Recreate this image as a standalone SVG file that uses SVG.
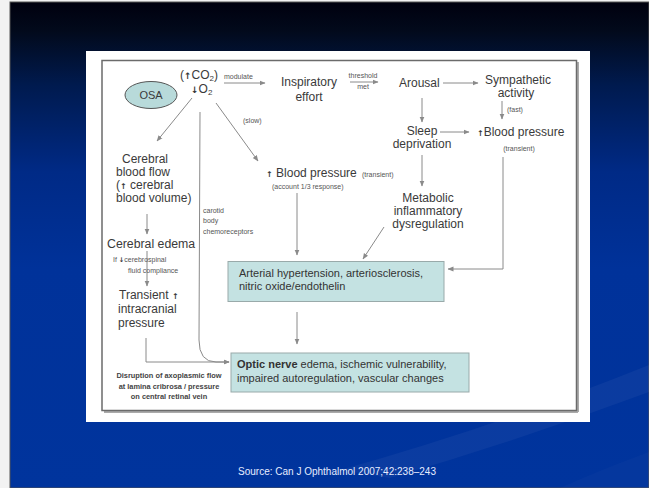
<svg xmlns="http://www.w3.org/2000/svg" width="649" height="488" viewBox="0 0 649 488">
<defs>
<linearGradient id="bg" x1="0" y1="0" x2="0" y2="1">
<stop offset="0" stop-color="#00000e"/>
<stop offset="0.06" stop-color="#020a1c"/>
<stop offset="0.17" stop-color="#001a4e"/>
<stop offset="0.35" stop-color="#002a86"/>
<stop offset="0.55" stop-color="#00329a"/>
<stop offset="1" stop-color="#00349d"/>
</linearGradient>
<marker id="ah" markerUnits="userSpaceOnUse" markerWidth="6" markerHeight="6" refX="5.5" refY="3" orient="auto">
<path d="M0,0.5 L6,3 L0,5.5 Z" fill="#8a8a8a"/>
</marker>
<style>
.t{font-family:"Liberation Sans",Arial,sans-serif;font-size:12px;fill:#3a3a3a}
.m{text-anchor:middle}
.s{font-family:"Liberation Sans",Arial,sans-serif;font-size:7px;fill:#555}
.sb{font-family:"Liberation Sans",Arial,sans-serif;font-size:7.4px;font-weight:bold;fill:#444;text-anchor:middle}
.bx{font-family:"Liberation Sans",Arial,sans-serif;font-size:11px;fill:#333}
.ar{font-family:"DejaVu Sans",sans-serif;font-weight:bold;fill:#333}
.c{fill:none;stroke:#8a8a8a;stroke-width:1;marker-end:url(#ah)}
.box{fill:#c4e2e2;stroke:#9aa;stroke-width:1}
</style>
</defs>
<rect x="0" y="0" width="649" height="488" fill="#f2f2f2"/>
<rect x="10" y="2" width="639" height="486" fill="url(#bg)" stroke="#555" stroke-width="1"/>
<path d="M340,470 Q500,425 649,365 L649,392 Q520,440 390,478 Z" fill="#ffffff" fill-opacity="0.045"/>
<path d="M560,488 Q600,470 649,452 L649,488 Z" fill="#ffffff" fill-opacity="0.02"/>
<rect x="86" y="51" width="504" height="371" fill="#ffffff"/>
<line x1="578" y1="62" x2="578" y2="412" stroke="#aaa" stroke-width="2"/>
<line x1="104" y1="412" x2="578" y2="412" stroke="#aaa" stroke-width="2"/>
<rect x="102" y="60.5" width="474.5" height="350" fill="none" stroke="#6b6b6b" stroke-width="1.5"/>

<g id="connectors">
<path class="c" d="M224,83 L265,83"/>
<path class="c" d="M350,82 L378,82"/>
<path class="c" d="M443,83 L478,83"/>
<path class="c" d="M502,101 L502,119"/>
<path class="c" d="M422,98 L422,122"/>
<path class="c" d="M440,132 L469,132"/>
<path class="c" d="M422,155 L422,186"/>
<path class="c" d="M192,98 L157,141"/>
<path class="c" d="M216,103 L258,161"/>
<path class="c" d="M200,112 L199,340 Q199,362 216,362 L229,362"/>
<path class="c" d="M146,338 L146,362 L229,362"/>
<path class="c" d="M147,214 L147,234"/>
<path class="c" d="M147,251 L147,286"/>
<path class="c" d="M297,193 L297,255"/>
<path class="c" d="M384,227 L363,259"/>
<path class="c" d="M503,157 L503,269 L448,269"/>
<path class="c" d="M297,312 L297,344"/>
</g>

<g id="osa">
<ellipse cx="151" cy="95" rx="26" ry="13.5" fill="#b8dada" stroke="#555" stroke-width="1"/>
<text class="t m" x="151" y="99" style="font-size:11px">OSA</text>
</g>
<g id="gases">
<text class="t" x="180" y="79">(<tspan class="ar" style="font-size:9px">↑</tspan>CO<tspan dy="2" style="font-size:8px">2</tspan><tspan dy="-2">)</tspan></text>
<text class="t" x="191" y="93"><tspan class="ar" style="font-size:9px">↓</tspan>O<tspan dy="2" style="font-size:8px">2</tspan></text>
</g>
<g id="modulate-label"><text class="s" x="224" y="79">modulate</text></g>
<g id="inspiratory">
<text class="t m" x="309" y="86">Inspiratory</text>
<text class="t m" x="309" y="101">effort</text>
</g>
<g id="threshold-label">
<text class="s m" x="363" y="78">threshold</text>
<text class="s m" x="363" y="89">met</text>
</g>
<g id="arousal"><text class="t" x="399" y="87">Arousal</text></g>
<g id="sympathetic">
<text class="t m" x="518" y="84">Sympathetic</text>
<text class="t m" x="516" y="97">activity</text>
</g>
<g id="fast-label"><text class="s" x="507" y="112">(fast)</text></g>
<g id="slow-label"><text class="s" x="243" y="123">(slow)</text></g>
<g id="sleep">
<text class="t m" x="422" y="135">Sleep</text>
<text class="t m" x="422" y="148">deprivation</text>
</g>
<g id="bp-right">
<text class="t" x="477" y="136"><tspan class="ar" style="font-size:8px">↑</tspan>Blood pressure</text>
<text class="s m" x="519" y="151">(transient)</text>
</g>
<g id="cerebral-flow">
<text class="t" x="122" y="163">Cerebral</text>
<text class="t" x="116" y="176">blood flow</text>
<text class="t" x="116" y="189">(<tspan class="ar" style="font-size:8px">↑</tspan> cerebral</text>
<text class="t" x="116" y="202">blood volume)</text>
</g>
<g id="bp-left">
<text class="t" x="266" y="177"><tspan class="ar" style="font-size:8px">↑</tspan> Blood pressure</text>
<text class="s" x="362" y="177">(transient)</text>
<text class="s" x="272" y="189">(account 1/3 response)</text>
</g>
<g id="metabolic">
<text class="t m" x="428" y="202">Metabolic</text>
<text class="t m" x="428" y="215">inflammatory</text>
<text class="t m" x="428" y="228">dysregulation</text>
</g>
<g id="carotid-label">
<text class="s" x="203" y="213">carotid</text>
<text class="s" x="203" y="223">body</text>
<text class="s" x="203" y="234">chemoreceptors</text>
</g>
<g id="cerebral-edema"><text class="t" x="107" y="248" style="font-size:12.3px">Cerebral edema</text></g>
<g id="csf-label">
<text class="s" x="113" y="262">If <tspan class="ar" style="font-size:6.5px">↓</tspan>cerebrospinal</text>
<text class="s" x="128" y="273">fluid  compliance</text>
</g>
<g id="transient-icp">
<text class="t" x="119" y="299">Transient <tspan class="ar" style="font-size:8px">↑</tspan></text>
<text class="t" x="118" y="313">intracranial</text>
<text class="t" x="118" y="327">pressure</text>
</g>
<g id="arterial">
<rect class="box" x="228" y="261.5" width="216" height="40"/>
<text class="bx" x="239" y="277">Arterial hypertension, arteriosclerosis,</text>
<text class="bx" x="239" y="290">nitric oxide/endothelin</text>
</g>
<g id="optic">
<rect class="box" x="231" y="353" width="238" height="39"/>
<text class="bx" x="237" y="368"><tspan font-weight="bold">Optic nerve</tspan> edema, ischemic vulnerability,</text>
<text class="bx" x="237" y="382">impaired autoregulation, vascular changes</text>
</g>
<g id="disruption-label">
<text class="sb" x="169" y="378">Disruption of axoplasmic flow</text>
<text class="sb" x="169" y="389">at lamina cribrosa / pressure</text>
<text class="sb" x="169" y="399">on central retinal vein</text>
</g>
<g id="source"><text x="337" y="475" text-anchor="middle" style="font-family:'Liberation Sans',Arial,sans-serif;font-size:10px;fill:#e6ecff">Source: Can J Ophthalmol 2007;42:238–243</text></g>
</svg>
